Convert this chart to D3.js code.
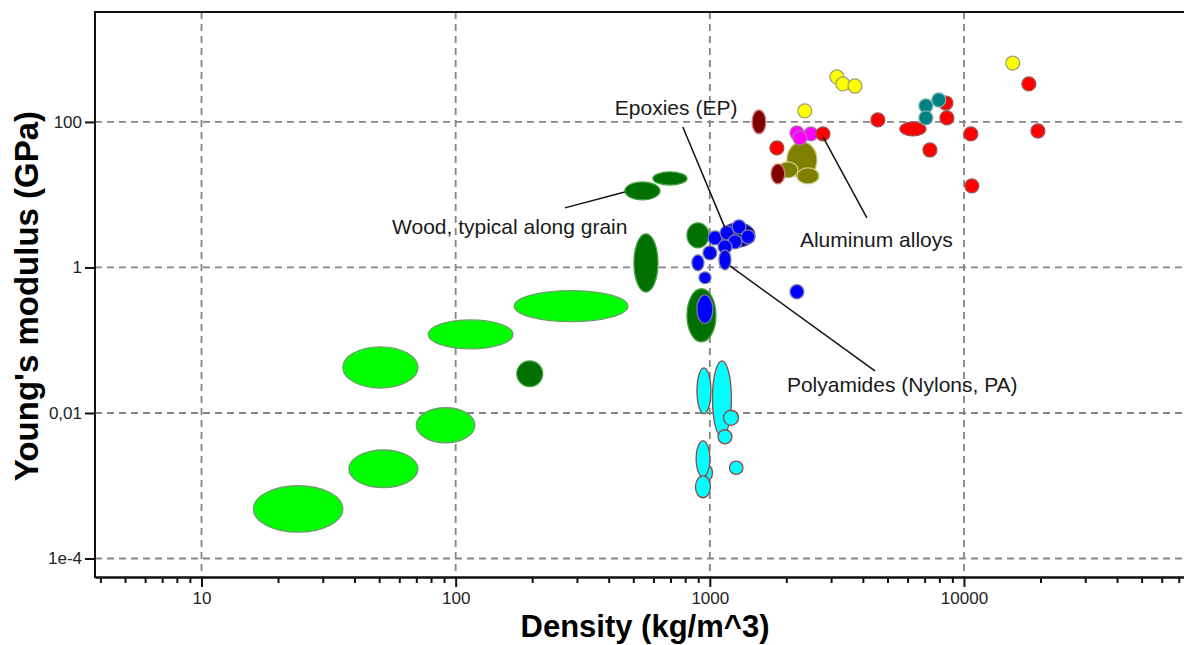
<!DOCTYPE html>
<html><head><meta charset="utf-8">
<script src="https://cdn.jsdelivr.net/npm/d3@7"></script>
<style>
body{margin:0;background:#fff}
svg{display:block}
text{font-family:"Liberation Sans",Arial,sans-serif}
</style>
</head><body><svg id="c" width="1184" height="645"></svg>
<script>
// ---------- DATA ----------
const xTickValues = [10, 100, 1000, 10000];
const xTickLabels = ["10", "100", "1000", "10000"];
const yTickValues = [100, 1, 0.01, 1e-4];
const yTickLabels = ["100", "1", "0,01", "1e-4"];
const xDomain = [3.81, 73400];
const yDomain = [5.57e-5, 3243];
const xTitle = "Density (kg/m^3)";
const yTitle = "Young's modulus (GPa)";

// each bubble: [density min, density max, modulus min, modulus max]
const foams = [
  [16, 36, 2.3e-4, 1e-3],
  [38, 71, 9.4e-4, 3.1e-3],
  [36, 71, 0.022, 0.081],
  [70, 119, 0.0039, 0.0118],
  [78, 168, 0.076, 0.19],
  [170, 476, 0.18, 0.48]
];
const naturalMaterials = [
  [174, 220, 0.023, 0.052],
  [503, 625, 0.46, 2.9],
  [463, 637, 8.5, 15],
  [597, 813, 13.6, 20.6],
  [813, 992, 1.86, 4.1],
  [813, 1057, 0.095, 0.51]
];
const elastomers = [
  [890, 1010, 0.00975, 0.0418],
  [1024, 1216, 0.00471, 0.0521],
  [1132, 1296, 0.00677, 0.0109],
  [1077, 1222, 0.00377, 0.00588],
  [961, 1024, 0.00121, 0.00188],
  [883, 1001, 0.00133, 0.00415],
  [878, 1006, 0.000684, 0.00137],
  [1195, 1350, 0.00143, 0.00218]
];
const epoxies = [
  [1106, 1504, 1.92, 4.09]
];
const polymers = [
  [984, 1116, 2.04, 3.18],
  [1097, 1244, 2.40, 3.73],
  [1223, 1387, 2.89, 4.51],
  [1327, 1505, 2.11, 3.28],
  [1178, 1337, 1.80, 2.81],
  [1077, 1222, 1.54, 2.40],
  [940, 1066, 1.27, 1.98],
  [850, 948, 0.90, 1.49],
  [906, 1011, 0.60, 0.87],
  [1086, 1211, 0.93, 1.74],
  [2067, 2344, 0.37, 0.58],
  [889, 1028, 0.17, 0.42]
];
const composites = [
  [2010, 2639, 17.0, 53.2],
  [2201, 2687, 14.1, 23.3],
  [1853, 2222, 17.0, 28.2]
];
const darkRed = [
  [1466, 1662, 68.4, 146],
  [1740, 1973, 14.1, 26.5]
];
const aluminumAlloys = [
  [2067, 2344, 56.6, 88.1],
  [2347, 2662, 54.8, 85.4],
  [2124, 2409, 48.3, 75.2]
];
const metals = [
  [2617, 2968, 54.8, 85.4],
  [1724, 1955, 35.2, 54.8],
  [4302, 4879, 85.3, 133],
  [5596, 7082, 64.2, 100],
  [6898, 7823, 33.0, 51.4],
  [7971, 9041, 146, 227],
  [8044, 9124, 91, 142],
  [9991, 11332, 54.8, 85.4],
  [10081, 11434, 10.6, 16.5],
  [16900, 19170, 267, 415],
  [18350, 20810, 60.2, 93.8]
];
const tealMetals = [
  [6648, 7540, 133, 207],
  [7474, 8477, 160, 250],
  [6648, 7540, 91, 142]
];
const ceramics = [
  [2969, 3368, 333, 518],
  [3135, 3556, 267, 415],
  [3497, 3966, 250, 390],
  [2219, 2517, 113.5, 177],
  [14610, 16570, 517, 805]
];

const annotationLabels = ["Epoxies (EP)", "Wood, typical along grain", "Aluminum alloys", "Polyamides (Nylons, PA)"];
const annotationTextAt = [[423, 125], [56.2, 2.89], [2262, 1.92], [2011, 0.0196]];
const leaderStart = [[783, 85.4], [269, 6.59], [2787, 62.2], [1200, 1.05]];
const leaderEnd = [[1147, 3.5], [463, 10.9], [4150, 4.8], [4462, 0.038]];

// ---------- STYLES ----------
const groups = [
  {data: foams, fill: "#00ff00", stroke: "#6a9f6a"},
  {data: naturalMaterials, fill: "#007000", stroke: "#45a045"},
  {data: elastomers, fill: "#00ffff", stroke: "#8c4a4a"},
  {data: epoxies, fill: "#000090", stroke: "#4a4aa8"},
  {data: polymers, fill: "#0000ff", stroke: "#7a7aaa"},
  {data: composites, fill: "#808000", stroke: "#c8c880"},
  {data: darkRed, fill: "#800000", stroke: "#d08080"},
  {data: aluminumAlloys, fill: "#ff00ff", stroke: "#b070b0"},
  {data: metals, fill: "#ff0000", stroke: "#a05050"},
  {data: tealMetals, fill: "#008080", stroke: "#70b0b0"},
  {data: ceramics, fill: "#ffff00", stroke: "#a0a070"}
];

const plotL = 95, plotT = 12, plotB = 577, plotR = 1184;
const svg = d3.select("#c");
const xs = d3.scaleLog().domain(xDomain).range([plotL, plotR]);
const ys = d3.scaleLog().domain(yDomain).range([plotB, plotT]);

// grid
const grid = svg.append("g").attr("stroke", "#858585").attr("stroke-width", 1.8).attr("stroke-dasharray", "7,5");
grid.append("g").selectAll("line").data(xTickValues).join("line")
  .attr("x1", d => xs(d)).attr("x2", d => xs(d)).attr("y1", plotT).attr("y2", plotB);
grid.append("g").selectAll("line").data(yTickValues).join("line")
  .attr("x1", plotL).attr("x2", plotR).attr("y1", d => ys(d)).attr("y2", d => ys(d));

// bubbles
groups.forEach(g => {
  svg.append("g").selectAll("ellipse").data(g.data).join("ellipse")
    .attr("cx", d => (xs(d[0]) + xs(d[1])) / 2)
    .attr("cy", d => (ys(d[2]) + ys(d[3])) / 2)
    .attr("rx", d => Math.abs(xs(d[1]) - xs(d[0])) / 2)
    .attr("ry", d => Math.abs(ys(d[2]) - ys(d[3])) / 2)
    .attr("fill", g.fill).attr("stroke", g.stroke).attr("stroke-width", 1.3);
});

// leader lines
svg.append("g").selectAll("line").data(leaderStart).join("line")
  .attr("x1", d => xs(d[0])).attr("y1", d => ys(d[1]))
  .attr("x2", (d, i) => xs(leaderEnd[i][0])).attr("y2", (d, i) => ys(leaderEnd[i][1]))
  .attr("stroke", "#111").attr("stroke-width", 1.5);

svg.append("g").selectAll("text").data(annotationLabels).join("text")
  .attr("x", (d, i) => xs(annotationTextAt[i][0])).attr("y", (d, i) => ys(annotationTextAt[i][1]))
  .attr("font-size", 21).attr("fill", "#1a1a1a").text(d => d);

// axes
const minorTicks = [];
for (let e = 0; e <= 4; e++) for (let m = 2; m <= 9; m++) {
  const v = m * Math.pow(10, e);
  if (v >= xDomain[0] && v <= xDomain[1]) minorTicks.push(v);
}
const xMinor = svg.append("g").attr("transform", `translate(0,${plotB})`)
  .call(d3.axisBottom(xs).tickValues(minorTicks).tickSize(6).tickSizeOuter(0).tickFormat(""));
const xMajor = svg.append("g").attr("transform", `translate(0,${plotB})`)
  .call(d3.axisBottom(xs).tickValues(xTickValues).tickSize(10).tickSizeOuter(0)
    .tickFormat((d, i) => xTickLabels[i]).tickPadding(5));
const yAx = svg.append("g").attr("transform", `translate(${plotL},0)`)
  .call(d3.axisLeft(ys).tickValues(yTickValues).tickSize(10).tickSizeOuter(0)
    .tickFormat((d, i) => yTickLabels[i]).tickPadding(3));
[xMinor, xMajor, yAx].forEach(a => {
  a.selectAll("path,line").attr("stroke", "#111").attr("stroke-width", 2);
  a.selectAll("text").attr("font-size", 17).attr("fill", "#222")
    .attr("font-family", '"Liberation Sans",Arial,sans-serif');
});
yAx.select(".domain").remove();
svg.append("line").attr("x1", plotL).attr("x2", plotL).attr("y1", plotT - 1).attr("y2", plotB + 1)
  .attr("stroke", "#111").attr("stroke-width", 2);
svg.append("line").attr("x1", plotL).attr("x2", plotR).attr("y1", plotT).attr("y2", plotT)
  .attr("stroke", "#111").attr("stroke-width", 2);

// titles
svg.append("text").attr("x", 645).attr("y", 637).attr("text-anchor", "middle")
  .attr("font-size", 31).attr("font-weight", "bold").attr("fill", "#000").text(xTitle);
svg.append("text").attr("transform", "translate(38,296) rotate(-90)").attr("text-anchor", "middle")
  .attr("font-size", 33).attr("font-weight", "bold").attr("fill", "#000").text(yTitle);
</script>
</body></html>
